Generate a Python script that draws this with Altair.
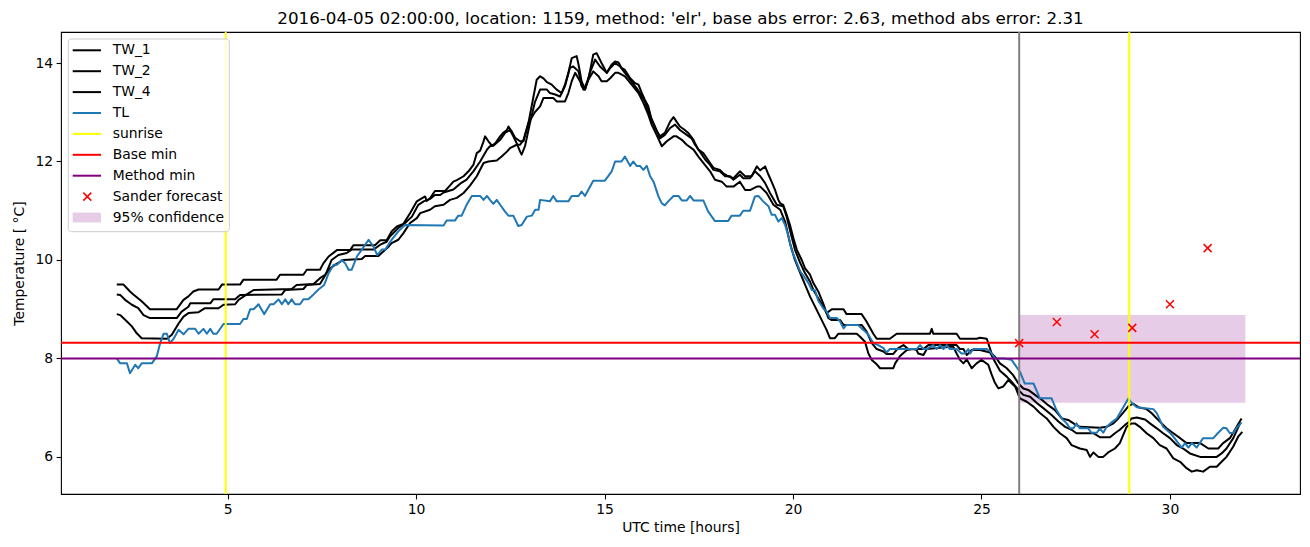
import altair as alt
import pandas as pd

TITLE = "2016-04-05 02:00:00, location: 1159, method: 'elr', base abs error: 2.63, method abs error: 2.31"
FONT = "DejaVu Sans"

# (time [h], temperature [°C])
tw_1 = [(2.06,9.5),(2.24,9.5),(2.41,9.36),(2.50,9.3),(2.72,9.16),(2.94,9.0),(3.65,9.0),(3.83,9.19),(3.96,9.26),(4.09,9.36),(4.23,9.4),(4.76,9.4),(4.85,9.5),(5.33,9.5),(5.42,9.6),(6.30,9.6),(6.39,9.7),(7.01,9.7),(7.10,9.8),(7.45,9.8),(7.54,9.93),(7.68,10.07),(7.90,10.2),(8.25,10.2),(8.34,10.3),(8.91,10.3),(9.05,10.4),(9.22,10.4),(9.35,10.58),(9.49,10.68),(9.66,10.73),(9.84,10.95),(10.02,11.19),(10.15,11.25),(10.24,11.29),(10.28,11.2),(10.37,11.25),(10.50,11.4),(10.77,11.4),(10.86,11.48),(10.99,11.59),(11.08,11.62),(11.26,11.7),(11.39,11.8),(11.52,11.93),(11.61,12.17),(11.70,12.22),(11.79,12.41),(11.83,12.51),(11.92,12.41),(12.01,12.32),(12.10,12.37),(12.23,12.51),(12.32,12.59),(12.41,12.64),(12.45,12.71),(12.54,12.61),(12.63,12.48),(12.76,12.41),(12.85,12.41),(12.98,12.78),(13.11,13.3),(13.20,13.66),(13.29,13.73),(13.38,13.69),(13.47,13.61),(13.60,13.56),(13.73,13.46),(13.86,13.39),(13.95,13.56),(14.04,13.80),(14.13,14.10),(14.26,14.14),(14.31,13.97),(14.39,13.63),(14.48,13.46),(14.57,13.66),(14.70,14.17),(14.79,14.20),(14.92,14.0),(15.06,13.80),(15.19,13.97),(15.28,14.03),(15.37,14.01),(15.45,13.90),(15.54,13.86),(15.68,13.69),(15.81,13.59),(15.90,13.56),(15.99,13.39),(16.07,13.25),(16.16,13.12),(16.25,12.85),(16.34,12.68),(16.47,12.51),(16.60,12.58),(16.74,12.81),(16.83,12.90),(16.91,12.81),(17.00,12.71),(17.13,12.64),(17.22,12.58),(17.36,12.44),(17.40,12.37),(17.49,12.24),(17.62,12.17),(17.71,12.07),(17.80,11.97),(17.89,11.87),(18.06,11.83),(18.15,11.76),(18.28,11.70),(18.42,11.66),(18.59,11.80),(18.73,11.70),(18.90,11.70),(19.04,11.90),(19.13,11.82),(19.26,11.90),(19.35,11.73),(19.43,11.59),(19.52,11.43),(19.61,11.22),(19.66,11.15),(19.74,11.12),(19.83,10.92),(19.92,10.71),(20.01,10.44),(20.10,10.21),(20.23,10.0),(20.32,9.83),(20.45,9.70),(20.54,9.53),(20.67,9.36),(20.80,9.12),(20.89,8.92),(21.03,9.0),(21.34,9.0),(21.42,8.9),(21.82,8.9),(21.95,8.75),(22.13,8.5),(22.22,8.4),(22.57,8.4),(22.75,8.5),(23.63,8.5),(23.68,8.6),(23.72,8.5),(24.34,8.5),(24.43,8.4),(24.87,8.4),(24.96,8.42),(25.14,8.4),(25.27,8.1),(25.40,8.0),(25.49,7.9),(25.67,7.8),(25.84,7.66),(25.98,7.49),(26.11,7.39),(26.24,7.36),(26.42,7.26),(26.60,7.16),(26.77,7.05),(26.95,6.95),(27.13,6.78),(27.30,6.75),(27.48,6.66),(27.61,6.61),(28.14,6.59),(28.32,6.61),(28.50,6.68),(28.63,6.78),(28.76,6.90),(28.90,7.03),(29.03,7.08),(29.16,7.01),(29.38,6.97),(29.51,6.89),(29.65,6.78),(29.78,6.68),(29.91,6.58),(30.09,6.48),(30.27,6.38),(30.44,6.28),(30.80,6.28),(31.02,6.17),(31.28,6.17),(31.41,6.28),(31.59,6.38),(31.77,6.61),(31.90,6.78)]

tw_2 = [(2.06,9.3),(2.15,9.29),(2.28,9.19),(2.46,9.09),(2.63,9.02),(2.77,8.88),(2.94,8.82),(3.65,8.82),(3.78,8.95),(3.96,9.05),(4.01,9.12),(4.54,9.12),(4.62,9.2),(5.20,9.2),(5.33,9.29),(6.44,9.3),(6.53,9.39),(7.01,9.41),(7.10,9.49),(7.45,9.51),(7.60,9.7),(7.76,10.0),(7.94,10.1),(8.16,10.14),(8.29,10.21),(8.87,10.21),(9.05,10.31),(9.22,10.37),(9.31,10.48),(9.53,10.65),(9.71,10.75),(9.89,10.88),(10.06,11.12),(10.20,11.19),(10.37,11.24),(10.50,11.32),(10.64,11.32),(10.73,11.37),(10.99,11.43),(11.17,11.55),(11.34,11.63),(11.52,11.80),(11.70,12.0),(11.88,12.24),(11.96,12.31),(12.05,12.32),(12.23,12.44),(12.36,12.58),(12.49,12.64),(12.58,12.51),(12.67,12.37),(12.76,12.20),(12.80,12.14),(12.89,12.31),(13.02,12.78),(13.15,13.2),(13.29,13.46),(13.47,13.46),(13.55,13.39),(13.69,13.36),(13.82,13.32),(13.95,13.53),(14.08,13.90),(14.17,13.93),(14.31,13.83),(14.39,13.53),(14.48,13.46),(14.61,13.80),(14.75,14.07),(14.88,13.93),(15.06,13.80),(15.15,13.90),(15.28,14.0),(15.41,13.93),(15.54,13.80),(15.68,13.66),(15.85,13.49),(15.94,13.39),(16.07,13.22),(16.21,12.92),(16.34,12.71),(16.47,12.47),(16.60,12.54),(16.74,12.68),(16.87,12.75),(17.00,12.64),(17.18,12.54),(17.31,12.47),(17.40,12.34),(17.53,12.20),(17.67,12.04),(17.80,11.93),(17.89,11.83),(18.06,11.80),(18.20,11.70),(18.33,11.70),(18.42,11.63),(18.59,11.73),(18.68,11.66),(18.86,11.66),(18.99,11.80),(19.13,11.7),(19.26,11.56),(19.39,11.36),(19.57,11.12),(19.74,11.09),(19.83,10.88),(19.96,10.48),(20.05,10.21),(20.19,9.94),(20.32,9.73),(20.45,9.56),(20.54,9.39),(20.67,9.22),(20.80,9.05),(20.89,8.92),(20.94,8.82),(21.03,8.78),(21.25,8.78),(21.34,8.68),(21.82,8.68),(21.95,8.55),(22.09,8.31),(22.22,8.19),(22.40,8.14),(22.48,8.09),(22.66,8.09),(22.79,8.21),(22.93,8.27),(23.06,8.19),(23.46,8.19),(23.59,8.27),(24.34,8.27),(24.43,8.19),(24.52,8.19),(24.61,8.07),(24.74,8.17),(24.96,8.17),(25.23,8.12),(25.31,8.0),(25.49,7.75),(25.67,7.63),(25.84,7.49),(25.98,7.36),(26.11,7.26),(26.29,7.22),(26.46,7.10),(26.64,6.99),(26.86,6.85),(27.04,6.72),(27.22,6.61),(27.39,6.55),(27.52,6.48),(27.97,6.48),(28.14,6.40),(28.41,6.40),(28.54,6.48),(28.67,6.55),(28.81,6.65),(28.90,6.70),(28.98,6.78),(29.12,6.80),(29.34,6.76),(29.47,6.68),(29.65,6.58),(29.82,6.48),(30.0,6.38),(30.18,6.24),(30.35,6.17),(30.53,6.07),(30.80,6.0),(31.24,6.0),(31.37,6.07),(31.50,6.17),(31.68,6.38),(31.86,6.68)]

tw_4 = [(2.06,8.9),(2.15,8.88),(2.33,8.75),(2.46,8.65),(2.59,8.51),(2.72,8.41),(3.39,8.40),(3.52,8.48),(3.70,8.71),(3.83,8.85),(3.96,8.92),(4.23,8.94),(4.40,9.02),(4.76,9.02),(4.89,9.09),(5.20,9.10),(5.29,9.19),(5.51,9.30),(5.69,9.39),(6.70,9.41),(6.83,9.49),(7.28,9.51),(7.45,9.63),(7.59,9.70),(7.72,9.83),(7.85,9.90),(8.07,10.0),(8.56,10.02),(8.65,10.08),(9.0,10.08),(9.13,10.17),(9.27,10.27),(9.35,10.34),(9.53,10.41),(9.66,10.54),(9.84,10.75),(10.02,10.85),(10.11,10.95),(10.37,11.02),(10.50,11.09),(10.73,11.12),(10.90,11.22),(11.08,11.26),(11.26,11.36),(11.43,11.51),(11.61,11.70),(11.79,11.97),(11.92,12.0),(12.14,12.02),(12.27,12.10),(12.41,12.20),(12.49,12.27),(12.67,12.34),(12.76,12.34),(12.85,12.44),(12.98,12.78),(13.15,13.0),(13.29,13.12),(13.38,13.29),(13.64,13.29),(13.73,13.22),(13.95,13.22),(14.04,13.39),(14.13,13.63),(14.22,13.80),(14.35,13.63),(14.44,13.46),(14.57,13.66),(14.70,13.83),(14.84,13.73),(14.92,13.63),(15.06,13.63),(15.15,13.69),(15.28,13.80),(15.37,13.80),(15.54,13.73),(15.72,13.56),(15.90,13.39),(16.03,13.19),(16.16,12.95),(16.25,12.75),(16.38,12.54),(16.52,12.31),(16.65,12.41),(16.83,12.51),(16.91,12.51),(17.05,12.44),(17.18,12.34),(17.36,12.24),(17.49,12.10),(17.62,11.97),(17.80,11.80),(17.93,11.63),(18.11,11.59),(18.24,11.49),(18.42,11.49),(18.59,11.59),(18.73,11.42),(18.86,11.42),(19.04,11.49),(19.13,11.49),(19.30,11.36),(19.48,11.12),(19.66,11.02),(19.79,10.78),(19.92,10.34),(20.05,10.0),(20.23,9.66),(20.45,9.26),(20.67,8.92),(20.89,8.58),(20.98,8.41),(21.11,8.41),(21.20,8.50),(21.69,8.50),(21.78,8.44),(21.91,8.34),(22.0,8.10),(22.09,7.97),(22.22,7.88),(22.31,7.80),(22.66,7.80),(22.71,7.90),(22.84,8.05),(23.02,8.17),(23.19,8.19),(23.28,8.17),(23.32,8.10),(23.46,8.07),(23.55,8.19),(24.25,8.24),(24.34,8.10),(24.43,7.97),(24.52,7.90),(24.61,7.98),(24.74,7.80),(24.87,7.90),(25.0,7.97),(25.18,7.87),(25.27,7.67),(25.36,7.50),(25.45,7.39),(25.58,7.43),(25.71,7.56),(25.89,7.43),(26.02,7.19),(26.20,7.12),(26.38,7.02),(26.55,6.89),(26.73,6.78),(26.91,6.61),(27.08,6.48),(27.26,6.38),(27.39,6.24),(27.61,6.17),(27.79,6.14),(27.88,6.0),(27.97,6.09),(28.10,6.0),(28.23,6.0),(28.36,6.09),(28.54,6.17),(28.67,6.28),(28.85,6.61),(28.98,6.68),(29.07,6.68),(29.20,6.61),(29.38,6.48),(29.56,6.38),(29.73,6.24),(29.91,6.17),(30.09,5.97),(30.27,5.90),(30.44,5.77),(30.58,5.70),(30.71,5.73),(30.88,5.70),(31.06,5.80),(31.24,5.80),(31.37,5.90),(31.50,6.0),(31.68,6.21),(31.81,6.41),(31.92,6.51)]

tl = [(2.06,8.0),(2.15,7.9),(2.33,7.9),(2.41,7.7),(2.55,7.87),(2.63,7.8),(2.72,7.9),(2.99,7.9),(3.12,8.04),(3.21,8.31),(3.30,8.5),(3.39,8.5),(3.47,8.31),(3.56,8.39),(3.70,8.58),(3.83,8.49),(3.96,8.6),(4.14,8.6),(4.23,8.5),(4.36,8.6),(4.45,8.5),(4.54,8.6),(4.62,8.5),(4.71,8.5),(4.89,8.7),(5.33,8.7),(5.42,8.8),(5.51,8.8),(5.60,9.0),(5.69,9.0),(5.82,9.1),(5.97,8.9),(6.13,9.1),(6.22,9.1),(6.35,9.2),(6.44,9.1),(6.53,9.2),(6.61,9.1),(6.70,9.2),(6.79,9.1),(6.92,9.1),(7.01,9.2),(7.14,9.2),(7.28,9.3),(7.41,9.4),(7.56,9.49),(7.68,9.73),(7.81,9.90),(7.90,9.90),(8.03,10.0),(8.12,9.93),(8.21,9.80),(8.29,9.80),(8.43,10.07),(8.56,10.21),(8.74,10.41),(8.87,10.27),(8.97,10.10),(9.09,10.21),(9.18,10.21),(9.35,10.41),(9.53,10.58),(9.62,10.65),(9.71,10.71),(10.73,10.7),(10.81,10.8),(11.03,10.8),(11.12,10.9),(11.21,10.9),(11.34,11.12),(11.48,11.30),(11.70,11.3),(11.79,11.22),(11.88,11.3),(11.96,11.22),(12.05,11.14),(12.14,11.22),(12.23,11.12),(12.36,10.98),(12.45,10.9),(12.58,10.9),(12.71,10.69),(12.80,10.71),(12.94,10.88),(13.07,10.9),(13.16,11.02),(13.25,11.02),(13.29,11.22),(13.55,11.19),(13.64,11.30),(13.73,11.19),(14.04,11.19),(14.13,11.30),(14.31,11.30),(14.39,11.39),(14.48,11.30),(14.70,11.61),(15.01,11.61),(15.19,11.80),(15.28,12.0),(15.45,12.0),(15.54,12.10),(15.68,11.91),(15.76,12.0),(15.85,11.91),(15.94,11.91),(16.03,11.83),(16.12,11.91),(16.21,11.70),(16.30,11.59),(16.43,11.29),(16.52,11.15),(16.60,11.11),(16.69,11.19),(16.83,11.30),(16.96,11.30),(17.05,11.21),(17.18,11.21),(17.27,11.30),(17.36,11.21),(17.62,11.21),(17.75,10.98),(17.93,10.79),(18.28,10.79),(18.37,10.90),(18.59,10.90),(18.68,11.0),(18.86,11.0),(18.99,11.29),(19.08,11.30),(19.21,11.19),(19.35,11.09),(19.43,10.92),(19.52,10.92),(19.61,10.78),(19.70,10.85),(19.79,10.71),(19.88,10.48),(19.96,10.21),(20.10,9.94),(20.19,9.77),(20.32,9.63),(20.41,9.53),(20.50,9.39),(20.58,9.39),(20.67,9.17),(20.80,9.02),(20.89,8.95),(20.98,8.82),(21.16,8.82),(21.25,8.75),(21.34,8.61),(21.42,8.68),(21.73,8.68),(21.82,8.61),(21.91,8.55),(22.0,8.48),(22.13,8.31),(22.26,8.27),(22.40,8.21),(22.48,8.12),(22.57,8.19),(23.28,8.19),(23.37,8.27),(23.46,8.19),(23.55,8.19),(23.72,8.27),(23.81,8.19),(23.90,8.27),(23.99,8.19),(24.08,8.27),(24.16,8.19),(24.34,8.19),(24.47,8.10),(24.56,8.10),(24.65,8.19),(24.70,8.10),(24.78,8.19),(25.14,8.19),(25.23,8.14),(25.36,8.0),(25.60,8.0),(25.80,7.97),(25.89,7.87),(26.02,7.73),(26.15,7.49),(26.38,7.49),(26.55,7.19),(26.86,7.19),(26.99,6.95),(27.13,6.78),(27.26,6.68),(27.35,6.58),(27.44,6.58),(27.52,6.68),(27.61,6.58),(27.83,6.58),(27.92,6.49),(28.06,6.49),(28.14,6.58),(28.23,6.49),(28.32,6.61),(28.45,6.70),(28.59,6.78),(28.72,6.95),(28.90,7.19),(28.98,7.10),(29.12,7.01),(29.56,6.97),(29.65,6.89),(29.82,6.61),(30.0,6.49),(30.09,6.41),(30.22,6.28),(30.31,6.19),(30.40,6.28),(30.49,6.19),(30.58,6.28),(30.71,6.19),(30.88,6.38),(31.15,6.38),(31.28,6.49),(31.41,6.59),(31.50,6.58),(31.59,6.48),(31.68,6.49),(31.77,6.59),(31.90,6.70)]

sunrise_t = [4.95, 28.92]
forecast_start_t = [26.0]
base_min = [8.32]
method_min = [8.0]
sander_t = [26.0, 27.0, 28.0, 29.0, 30.0, 31.0]
sander_v = [8.31, 8.74, 8.49, 8.62, 9.10, 10.24]
conf_t = [26.0, 32.0]
conf_v = [7.10, 8.88]

x_ticks = [5, 10, 15, 20, 25, 30]
y_ticks = [6, 8, 10, 12, 14]
x_domain = [0.58, 33.45]
y_domain = [5.246, 14.63]

legend_labels = ["TW_1", "TW_2", "TW_4", "TL", "sunrise", "Base min", "Method min", "Sander forecast", "95% confidence"]
legend_colors = ["black", "black", "black", "#1f77b4", "yellow", "red", "purple", "red", "#800080"]

# ---------------- build
rows = []
for name, pts in [("TW_1", tw_1), ("TW_2", tw_2), ("TW_4", tw_4), ("TL", tl)]:
    for i, (t, v) in enumerate(pts):
        rows.append({"series": name, "t": t, "v": v, "i": i})
df = pd.DataFrame(rows)

xs = alt.Scale(domain=x_domain, nice=False, zero=False)
ys = alt.Scale(domain=y_domain, nice=False, zero=False)
AX = dict(grid=False, domain=False, labelFont=FONT, labelFontSize=13.9, labelColor="black",
          tickColor="black", tickSize=4.9, tickWidth=1.1, titleFont=FONT, titleFontSize=13.9,
          titleFontWeight="normal", titleColor="black", format="d")
xaxis = alt.Axis(values=x_ticks, title="UTC time [hours]", labelPadding=3.5, titlePadding=4, **AX)
yaxis = alt.Axis(values=y_ticks, title="Temperature [ °C]", labelPadding=3.5, titlePadding=8, **AX)

X = lambda f: alt.X(f, scale=xs, axis=xaxis)
Y = lambda f: alt.Y(f, scale=ys, axis=yaxis)

band = alt.Chart(pd.DataFrame({"t0": [conf_t[0]], "t1": [conf_t[1]], "lo": [conf_v[0]], "hi": [conf_v[1]]})).mark_rect(
    color="#800080", opacity=0.2
).encode(x=X("t0:Q"), x2="t1:Q", y=Y("lo:Q"), y2="hi:Q")

tw_lines = alt.Chart(df[df.series != "TL"]).mark_line(strokeWidth=2, strokeJoin="round", color="black").encode(
    x=X("t:Q"), y=Y("v:Q"), detail="series:N", order="i:Q"
)
tl_line = alt.Chart(df[df.series == "TL"]).mark_line(strokeWidth=2, strokeJoin="round", color="#1f77b4").encode(
    x=X("t:Q"), y=Y("v:Q"), order="i:Q"
)

sun = alt.Chart(pd.DataFrame({"t": sunrise_t})).mark_rule(color="yellow", strokeWidth=2).encode(x=X("t:Q"))
start = alt.Chart(pd.DataFrame({"t": forecast_start_t})).mark_rule(color="grey", strokeWidth=2).encode(x=X("t:Q"))
bmin = alt.Chart(pd.DataFrame({"v": base_min})).mark_rule(color="red", strokeWidth=2).encode(y=Y("v:Q"))
mmin = alt.Chart(pd.DataFrame({"v": method_min})).mark_rule(color="purple", strokeWidth=2).encode(y=Y("v:Q"))

XPATH = "M-1,-1L1,1M-1,1L1,-1"
sander = alt.Chart(pd.DataFrame({"t": sander_t, "v": sander_v})).mark_point(
    shape=XPATH, size=64, stroke="red", strokeWidth=1.5, filled=False, opacity=1
).encode(x=X("t:Q"), y=Y("v:Q"))

# legend (drawn in pixel space of the plot area)
leg_layers = [
    alt.Chart(pd.DataFrame({"a": [0]})).mark_rect(
        fill="white", fillOpacity=0.8, stroke="#cccccc", strokeWidth=1, cornerRadius=3
    ).encode(x=alt.value(7.3), x2=alt.value(168.3), y=alt.value(7), y2=alt.value(199.7))
]
for k, (lab, col) in enumerate(zip(legend_labels, legend_colors)):
    yc = 18.3 + 20.9 * k
    one = pd.DataFrame({"label": [lab]})
    if lab == "Sander forecast":
        leg_layers.append(alt.Chart(one).mark_point(shape=XPATH, size=64, stroke=col, strokeWidth=1.5, filled=False, opacity=1)
                          .encode(x=alt.value(26.3), y=alt.value(yc)))
    elif lab == "95% confidence":
        leg_layers.append(alt.Chart(one).mark_rect(fill=col, opacity=0.2)
                          .encode(x=alt.value(11.7), x2=alt.value(40), y=alt.value(yc - 4.9), y2=alt.value(yc + 4.9)))
    else:
        leg_layers.append(alt.Chart(one).mark_rule(stroke=col, strokeWidth=2)
                          .encode(x=alt.value(11.7), x2=alt.value(40), y=alt.value(yc)))
    leg_layers.append(alt.Chart(one).mark_text(align="left", baseline="middle", font=FONT, fontSize=13.9, color="black")
                      .encode(x=alt.value(51.7), y=alt.value(yc), text="label:N"))

chart = alt.layer(band, tw_lines, tl_line, start, sun, bmin, mmin, sander, *leg_layers).properties(
    width=1239, height=462, background="white",
    title=alt.TitleParams(TITLE, font=FONT, fontSize=16.7, fontWeight="normal", color="black", anchor="middle", offset=3),
    autosize=alt.AutoSizeParams(type="none"),
    padding={"left": 61, "top": 32, "right": 10, "bottom": 53},
).configure_view(stroke="black", strokeWidth=1.1)

chart.save("out.html", embed_options={"renderer": "svg", "actions": False})
